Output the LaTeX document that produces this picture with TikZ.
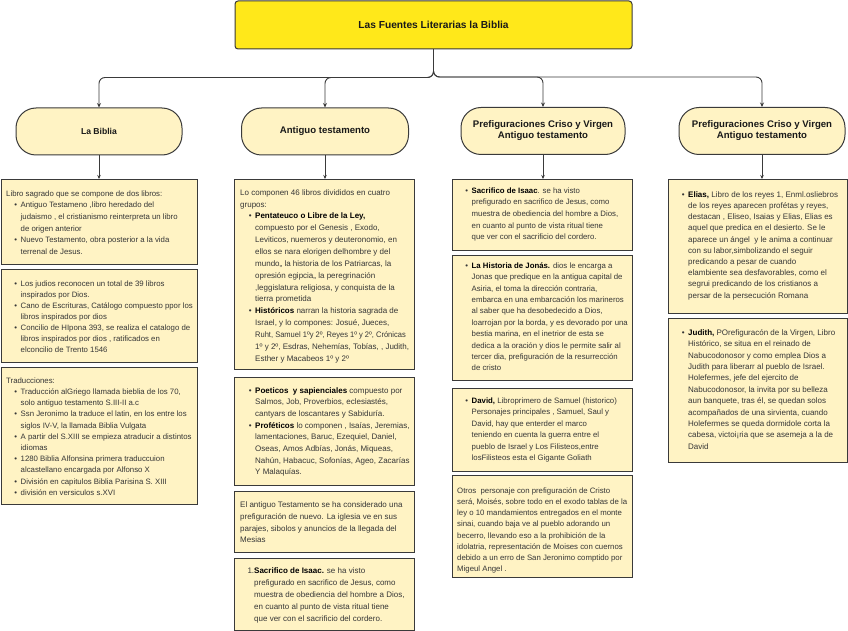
\documentclass[tikz,border=0pt]{standalone}
\usepackage{fontspec}
\setmainfont{Liberation Sans}
\usetikzlibrary{arrows.meta,calc}
\definecolor{boxfill}{HTML}{FFF3C4}
\definecolor{titlefill}{HTML}{FFE81A}
\definecolor{edgec}{HTML}{3A3A3A}
\definecolor{txtc}{HTML}{363636}
\newcommand\bul{\makebox[0pt][r]{\textbullet\hspace{3.5pt}}}
\newcommand\bb[1]{{\bfseries\color{black}#1}}
\newcommand\txtbox[6]{\node[txt, font=\fontsize{#4}{#5}\selectfont, anchor=north west] (#1) at (#2,{#3-0.7*#5}) {\strut #6};}
\tikzset{
  txt/.style={inner sep=0pt, align=left, text=txtc},
  box/.style={draw=edgec, line width=1.2pt, fill=boxfill, inner sep=0pt, anchor=north west},
  pill/.style={draw=edgec, line width=1pt, fill=boxfill, rounded corners=20pt, minimum height=47pt, align=center, inner sep=0pt, font=\bfseries\fontsize{9.6}{11}\selectfont, text=black!90},
  titlebox/.style={draw=edgec, line width=1pt, fill=titlefill, rounded corners=3pt, minimum width=397pt, minimum height=48pt, font=\bfseries\fontsize{10.2}{12}\selectfont, text=black!90},
  conn/.style={draw=edgec, line width=0.9pt, rounded corners=6pt, -{Stealth[length=4.5pt,width=4pt]}},
  down/.style={draw=edgec, line width=0.9pt, -{Stealth[length=4pt,width=3.5pt]}}
}
\begin{document}
\begin{tikzpicture}[x=1pt,y=-1pt]
\useasboundingbox (0,0) rectangle (848,631);
% title
\node[titlebox] (title) at (433.5,25) {Las Fuentes Literarias la Biblia};
% pills
\node[pill, minimum width=166pt, font=\bfseries\fontsize{8.6}{10}\selectfont] (p1) at (99,131.5) {La Biblia};
\node[pill, minimum width=167pt] (p2) at (325,131.5) {Antiguo testamento};
\node[pill, minimum width=164pt] (p3) at (543,131) {Prefiguraciones Criso y Virgen\\Antiguo testamento};
\node[pill, minimum width=166pt] (p4) at (762,131) {Prefiguraciones Criso y Virgen\\Antiguo testamento};
% connectors
\draw[conn] (title.south) |- ($(p1.north)+(0,-30)$) -- (p1.north);
\draw[conn] (title.south) |- ($(p2.north)+(0,-30)$) -- (p2.north);
\draw[conn] (title.south) |- ($(p3.north)+(0,-30)$) -- (p3.north);
\draw[conn] (title.south) |- ($(p4.north)+(0,-30)$) -- (p4.north);
% boxes column 1
\node[box, minimum width=196pt, minimum height=85pt] (b1a) at (1,179) {};
\node[box, minimum width=196pt, minimum height=93pt] (b1b) at (1,269) {};
\node[box, minimum width=196pt, minimum height=137pt] (b1c) at (1,367) {};
% column 2
\node[box, minimum width=180pt, minimum height=190pt] (b2a) at (234,179) {};
\node[box, minimum width=180pt, minimum height=108pt] (b2b) at (234,377) {};
\node[box, minimum width=180pt, minimum height=61pt] (b2c) at (234,491) {};
\node[box, minimum width=180pt, minimum height=72pt] (b2d) at (234,558) {};
% column 3
\node[box, minimum width=180pt, minimum height=71pt] (b3a) at (452,179) {};
\node[box, minimum width=180pt, minimum height=125pt] (b3b) at (452,255) {};
\node[box, minimum width=180pt, minimum height=83pt] (b3c) at (452,388) {};
\node[box, minimum width=180pt, minimum height=102pt] (b3d) at (452,475) {};
% column 4
\node[box, minimum width=179pt, minimum height=134pt] (b4a) at (668,179) {};
\node[box, minimum width=179pt, minimum height=144pt] (b4b) at (668,318) {};
% pill to box arrows
\draw[down] (p1.south) -- (p1.south |- b1a.north);
\draw[down] (p2.south) -- (p2.south |- b2a.north);
\draw[down] (p3.south) -- (p3.south |- b3a.north);
\draw[down] (p4.south) -- (p4.south |- b4a.north);
% texts column 1
\txtbox{t1a}{20.5}{196}{7.8}{11.6}{\hspace*{-14.5pt}Libro sagrado que se compone de dos libros:\\
\bul Antiguo Testameno ,libro heredado del\\
judaismo , el cristianismo reinterpreta un libro\\
de origen anterior\\
\bul Nuevo Testamento, obra posterior a la vida\\
terrenal de Jesus.}
\txtbox{t1b}{20.5}{286}{7.8}{11.1}{\bul Los judios reconocen un total de 39 libros\\
inspirados por Dios.\\
\bul Cano de Escrituras, Catálogo compuesto ppor los\\
libros inspirados por dios\\
\bul Concilio de HIpona 393, se realiza el catalogo de\\
libros inspirados por dios , ratificados en\\
elconcilio de Trento 1546}
\txtbox{t1c}{20.5}{383}{7.8}{11.2}{\hspace*{-14.5pt}Traducciones:\\
\bul Traducción alGriego llamada bieblia de los 70,\\
solo antiguo testamento S.III-II a.c\\
\bul Ssn Jeronimo la traduce el latin, en los entre los\\
siglos IV-V, la llamada Biblia Vulgata\\
\bul A partir del S.XIII se empieza atraducir a distintos\\
idiomas\\
\bul 1280 Biblia Alfonsina primera traduccuion\\
alcastellano encargada por Alfonso X\\
\bul División en capitulos Biblia Parisina S. XIII\\
\bul división en versiculos s.XVI}
% texts column 2
\txtbox{t2a}{255}{195}{8}{11.86}{\hspace*{-15pt}Lo componen 46 libros divididos en cuatro\\
\hspace*{-15pt}grupos:\\
\bul\bb{Pentateuco o Libre de la Ley,}\\
compuesto por el Genesis , Exodo,\\
Leviticos, nuemeros y deuteronomio, en\\
ellos se nara elorigen delhombre y del\\
mundo,, la historia de los Patriarcas, la\\
opresión egipcia,, la peregrinación\\
,leggislatura religiosa, y conquista de la\\
tierra prometida\\
\bul\bb{Históricos} narran la historia sagrada de\\
Israel, y lo compones: Josué, Jueces,\\
\scalebox{0.94}[1]{Ruht, Samuel 1ºy 2º, Reyes 1º y 2º, Crónicas}\\
1º y 2º, Esdras, Nehemías, Tobías, , Judith,\\
Esther y Macabeos 1º y 2º}
\txtbox{t2b}{255}{393}{8}{11.67}{\bul\bb{Poeticos\ \ y sapienciales} compuesto por\\
Salmos, Job, Proverbios, eclesiastés,\\
cantyars de loscantares y Sabiduría.\\
\bul\bb{Proféticos} lo componen , Isaías, Jeremias,\\
lamentaciones, Baruc, Ezequiel, Daniel,\\
Oseas, Amos Adbías, Jonás, Miqueas,\\
Nahún, Habacuc, Sofonías, Ageo, Zacarías\\
Y Malaquías.}
\txtbox{t2c}{240}{507}{8}{11.9}{El antiguo Testamento se ha considerado una\\
prefiguración de nuevo. La iglesia ve en sus\\
parajes, sibolos y anuncios de la llegada del\\
Mesias}
\txtbox{t2d}{254}{573}{8}{12}{\makebox[0pt][r]{1.}\bb{Sacrifico de Isaac.} se ha visto\\
prefigurado en sacrifico de Jesus, como\\
muestra de obediencia del hombre a Dios,\\
en cuanto al punto de vista ritual tiene\\
que ver con el sacrificio del cordero.}
% texts column 3
\txtbox{t3a}{471.5}{193}{7.8}{11.6}{\bul\bb{Sacrifico de Isaac}. se ha visto\\
prefigurado en sacrifico de Jesus, como\\
muestra de obediencia del hombre a Dios,\\
en cuanto al punto de vista ritual tiene\\
que ver con el sacrificio del cordero.}
\txtbox{t3b}{471.5}{268}{7.8}{11.4}{\bul\bb{La Historia de Jonás.} dios le encarga a\\
Jonas que predique en la antigua capital de\\
Asiria, el toma la dirección contraria,\\
embarca en una embarcación los marineros\\
al saber que ha desobedecido a Dios,\\
loarrojan por la borda, y es devorado por una\\
bestia marina, en el inetrior de esta se\\
dedica a la oración y dios le permite salir al\\
tercer dia, prefiguración de la resurrección\\
de cristo}
\txtbox{t3c}{471.5}{403}{7.8}{11.5}{\bul\bb{David,} Libroprimero de Samuel (historico)\\
Personajes principales , Samuel, Saul y\\
David, hay que enterder el marco\\
teniendo en cuenta la guerra entre el\\
pueblo de Israel y Los Filisteos,entre\\
losFilisteos esta el Gigante Goliath}
\txtbox{t3d}{457}{493}{7.8}{11.2}{Otros\ \ personaje con prefiguración de Cristo\\
será, Moisés, sobre todo en el exodo tablas de la\\
ley o 10 mandamientos entregados en el monte\\
sinai, cuando baja ve al pueblo adorando un\\
becerro, llevando eso a la prohibición de la\\
idolatria, representación de Moises con cuernos\\
debido a un erro de San Jeronimo comptido por\\
Migeul Angel .}
% texts column 4
\txtbox{t4a}{688}{197}{8}{11.2}{\bul\bb{Elias,} Libro de los reyes 1, Enml.osliebros\\
de los reyes aparecen profétas y reyes,\\
destacan , Eliseo, Isaias y Elias, Elias es\\
aquel que predica en el desierto. Se le\\
aparece un ángel\ \ y le anima a continuar\\
con su labor,simbolizando el seguir\\
predicando a pesar de cuando\\
elambiente sea desfavorables, como el\\
segrui predicando de los cristianos a\\
persar de la persecución Romana}
\txtbox{t4b}{688}{335}{8}{11.4}{\bul\bb{Judith,} POrefiguracón de la Virgen, Libro\\
Histórico, se situa en el reinado de\\
Nabucodonosor y como emplea Dios a\\
Judith para liberarr al pueblo de Israel.\\
Holefermes, jefe del ejercito de\\
Nabucodonosor, la invita por su belleza\\
aun banquete, tras él, se quedan solos\\
acompañados de una sirvienta, cuando\\
Holefermes se queda dormidole corta la\\
cabesa, victoi¡ria que se asemeja a la de\\
David}
\end{tikzpicture}
\end{document}
